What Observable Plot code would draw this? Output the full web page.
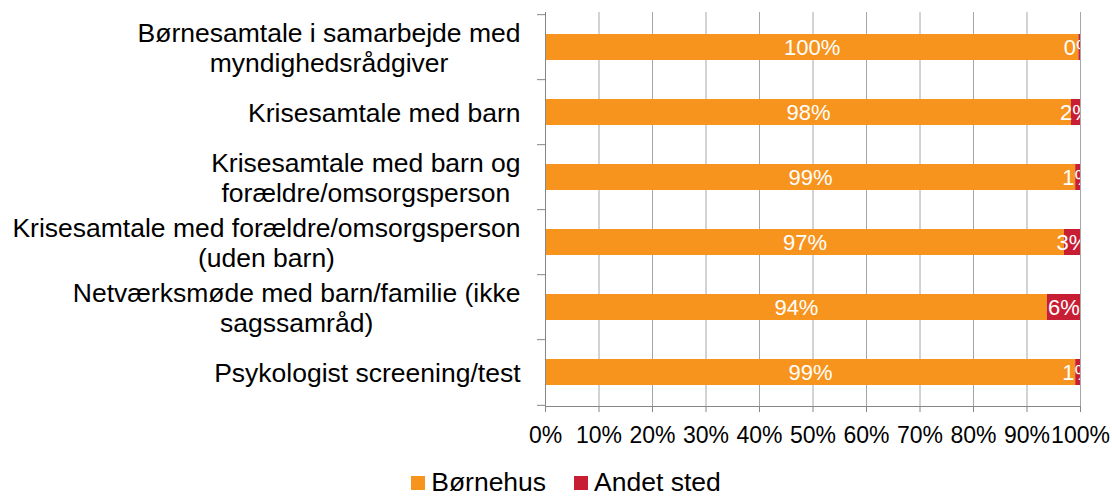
<!DOCTYPE html>
<html><head><meta charset="utf-8">
<script src="https://cdn.jsdelivr.net/npm/d3@7"></script>
<script src="https://cdn.jsdelivr.net/npm/@observablehq/plot@0.6"></script>
<style>
body{margin:0;background:#fff;font-family:"Liberation Sans",Arial,sans-serif;overflow:hidden;}
#chart svg{display:block;}
#legend{display:flex;justify-content:center;align-items:center;height:26px;margin-top:9px;padding-left:20px;font-size:26.5px;line-height:26px;color:#000;}
.item{display:flex;align-items:center;}
.sw{width:14px;height:14px;display:inline-block;margin-right:6px;position:relative;top:1px;}
</style></head><body><div id="chart"></div><div id="legend"></div>
<script>
const categories = [
  "Børnesamtale i samarbejde med\nmyndighedsrådgiver",
  "Krisesamtale med barn",
  "Krisesamtale med barn og\nforældre/omsorgsperson",
  "Krisesamtale med forældre/omsorgsperson\n(uden barn)",
  "Netværksmøde med barn/familie (ikke\nsagssamråd)",
  "Psykologist screening/test"
];
const bornehus = [99.7, 98.3, 99.1, 97, 93.8, 99.1];
const andetSted = [0.3, 1.7, 0.9, 3, 6.2, 0.9];
const seriesNames = ["Børnehus", "Andet sted"];
const seriesColors = ["#f7941e", "#c81e34"];
const xTicks = [0, 10, 20, 30, 40, 50, 60, 70, 80, 90, 100];

const data = [];
categories.forEach((c, i) => {
  data.push({category: c, series: seriesNames[0], value: bornehus[i]});
  data.push({category: c, series: seriesNames[1], value: andetSted[i]});
});

const W = 1112, H = 460, mL = 545, mR = 32, mT = 12, mB = 54;
const step = (H - mT - mB) / categories.length;
const labelFont = 26.5;
const font = '"Liberation Sans", Arial, sans-serif';
const ctx = document.createElement("canvas").getContext("2d");
ctx.font = `${labelFont}px ${font}`;
const labelGap = 25;

const labelMarks = categories.map(c => {
  const w = d3.max(c.split("\n"), l => ctx.measureText(l).width);
  return Plot.text([c], {
    y: d => d, text: d => d, frameAnchor: "left", textAnchor: "middle",
    dx: -(labelGap + w / 2), fontSize: labelFont, lineHeight: 1.13, fill: "#000"
  });
});

const chart = Plot.plot({
  width: W, height: H,
  marginLeft: mL, marginRight: mR, marginTop: mT, marginBottom: mB,
  style: {fontFamily: font, background: "#fff"},
  x: {domain: [0, 100], label: null},
  y: {domain: categories, paddingInner: 0.6, paddingOuter: 0.3, label: null},
  color: {domain: seriesNames, range: seriesColors},
  marks: [
    Plot.gridX(xTicks, {stroke: "#a6a6a6", strokeOpacity: 1, strokeWidth: 1}),
    Plot.barX(data, {x: "value", y: "category", fill: "series"}),
    Plot.text(data, Plot.stackX({x: "value", y: "category", z: "series",
      text: d => Math.round(d.value) + "%", fill: "white", fontSize: 22, clip: true})),
    Plot.frame({anchor: "left", stroke: "#868686"}),
    Plot.frame({anchor: "bottom", stroke: "#868686"}),
    Plot.axisY({tickSize: 8, tickFormat: () => "", dy: -step / 2, stroke: "#868686", label: null}),
    Plot.axisY([categories[categories.length - 1]], {tickSize: 8, tickFormat: () => "", dy: step / 2, stroke: "#868686", label: null}),
    Plot.axisX(xTicks, {tickSize: 6, tickPadding: 14, tickFormat: d => d + "%", fontSize: 23, stroke: "#868686", fill: "#000", label: null}),
    ...labelMarks
  ]
});
document.getElementById("chart").append(chart);

const legend = document.getElementById("legend");
seriesNames.forEach((s, i) => {
  const item = document.createElement("span");
  item.className = "item";
  if (i > 0) item.style.marginLeft = "28px";
  const sw = document.createElement("span");
  sw.className = "sw";
  sw.style.background = seriesColors[i];
  item.append(sw, document.createTextNode(s));
  legend.append(item);
});
</script></body></html>
